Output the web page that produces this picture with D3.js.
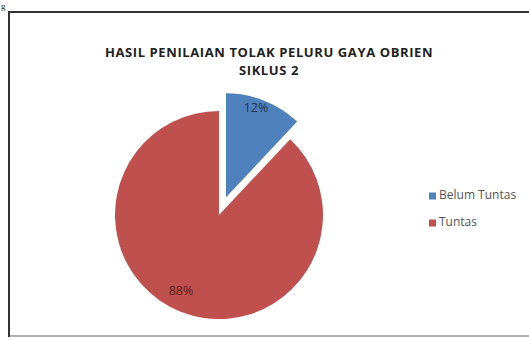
<!DOCTYPE html>
<html><head><meta charset="utf-8">
<script src="https://cdn.jsdelivr.net/npm/d3@7"></script>
<style>html,body{margin:0;padding:0;background:#fff;}</style>
</head><body>
<script>
const categories = ["Belum Tuntas", "Tuntas"];
const values = [12, 88];
const labels = ["12%", "88%"];
const colors = ["#4F81BD", "#C0504D"];
const titleLines = ["HASIL PENILAIAN TOLAK PELURU GAYA OBRIEN", "SIKLUS 2"];

const W = 529, H = 340;
const svg = d3.select("body").append("svg").attr("width", W).attr("height", H);
svg.append("rect").attr("width", W).attr("height", H).attr("fill", "#fff");

// caption glyph at top-left
svg.append("text").attr("x", 1).attr("y", 9).attr("font-family", "Liberation Serif").attr("font-size", 9).attr("fill", "#222").text("g");

// frame
svg.append("rect").attr("x", 9).attr("y", 12).attr("width", W + 10).attr("height", 324)
  .attr("fill", "#fff").attr("stroke", "#333").attr("stroke-width", 2);
svg.append("line").attr("x1", 10).attr("x2", W).attr("y1", 336).attr("y2", 336).attr("stroke", "#ddd").attr("stroke-width", 1.5);

// title
const title = svg.append("text").attr("text-anchor", "middle")
  .attr("font-family", "Open Sans, sans-serif").attr("font-weight", "bold")
  .attr("font-size", 13).attr("letter-spacing", 0.6).attr("fill", "#222");
titleLines.forEach((t, i) => title.append("tspan").attr("x", 269).attr("y", 57 + i * 18).text(t));

// pie
const cx = 219, cy = 215, r = 104, explode = 19;
const pie = d3.pie().sort(null).value(d => d)(values);
const arc = d3.arc().innerRadius(0).outerRadius(r);
const g = svg.append("g").attr("transform", `translate(${cx},${cy})`);
pie.forEach((p, i) => {
  const mid = (p.startAngle + p.endAngle) / 2;
  const d = i === 0 ? explode : 0;
  const dx = d * Math.sin(mid), dy = -d * Math.cos(mid);
  const sg = g.append("g").attr("transform", `translate(${dx},${dy})`);
  sg.append("path").attr("d", arc(p)).attr("fill", colors[i]);
  const lx = i === 0 ? 30 : -38, ly = i === 0 ? -89 : 77;
  sg.append("text").attr("x", lx).attr("y", ly).attr("text-anchor", "middle")
    .attr("dominant-baseline", "middle").attr("font-family", "Open Sans, sans-serif")
    .attr("font-size", 12.5).attr("fill", i === 0 ? "#1f3550" : "#5a1f1d").text(labels[i]);
});

// legend
const lg = svg.append("g");
categories.forEach((c, i) => {
  const y = 196 + i * 27;
  lg.append("rect").attr("x", 429).attr("y", y - 3.5).attr("width", 7).attr("height", 7).attr("fill", colors[i]);
  lg.append("text").attr("x", 439).attr("y", y).attr("dominant-baseline", "middle")
    .attr("font-family", "Open Sans, sans-serif").attr("font-size", 12).attr("fill", "#555").text(c);
});
</script>
</body></html>
